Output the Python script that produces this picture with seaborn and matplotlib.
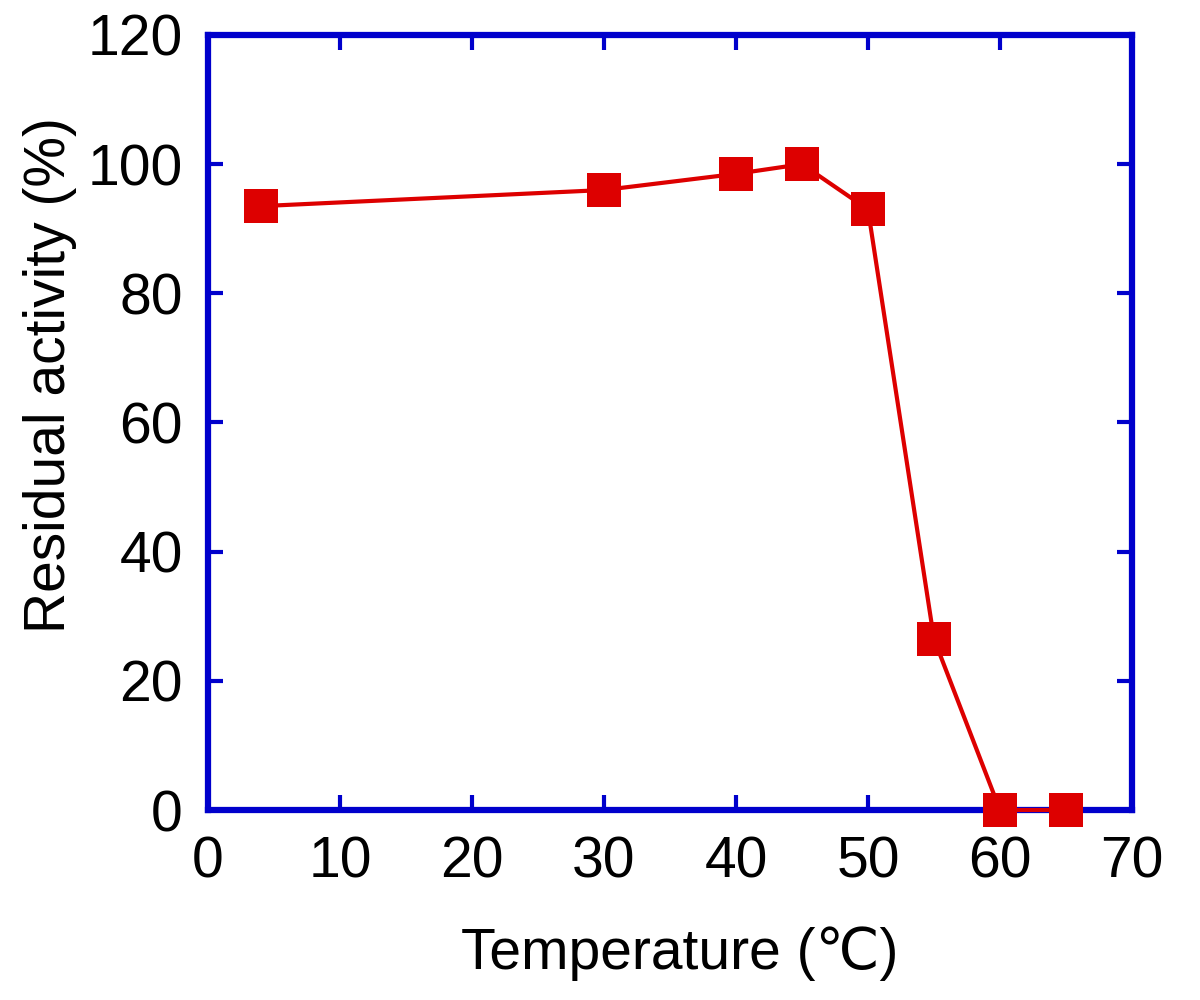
import matplotlib
matplotlib.use("Agg")
import matplotlib.pyplot as plt
import seaborn as sns
import pandas as pd

temperature = [4, 30, 40, 45, 50, 55, 60, 65]
activity = [93.5, 96, 98.5, 100, 93, 26.5, 0, 0]
x_ticks = [0, 10, 20, 30, 40, 50, 60, 70]
y_ticks = [0, 20, 40, 60, 80, 100, 120]

sns.set_theme(style="white")
plt.rcParams['font.family'] = ['Liberation Sans', 'DejaVu Sans', 'Noto Sans CJK SC']
plt.rcParams['text.color'] = 'black'
plt.rcParams['axes.labelcolor'] = 'black'
plt.rcParams['xtick.labelcolor'] = 'black'
plt.rcParams['ytick.labelcolor'] = 'black'

df = pd.DataFrame({"Temperature": temperature, "Activity": activity})

fig = plt.figure(figsize=(12, 10), dpi=100)
ax = fig.add_axes([0.1733, 0.19, 0.77, 0.775])

blue = "#0000CC"
red = "#DD0000"

sns.lineplot(data=df, x="Temperature", y="Activity", ax=ax, color=red,
             linewidth=3, marker="s", markersize=24, markeredgewidth=0,
             markerfacecolor=red, clip_on=False, zorder=5)

ax.set_xlim(0, 70)
ax.set_ylim(0, 120)
ax.set_xticks(x_ticks)
ax.set_yticks(y_ticks)
ax.set_xlabel("Temperature (℃)", fontsize=41, color="black")
ax.set_ylabel("Residual activity (%)", fontsize=41, color="black")
ax.xaxis.set_label_coords(0.51, -0.150)
ax.yaxis.set_label_coords(-0.142, 0.561)

for s in ax.spines.values():
    s.set_color(blue)
    s.set_linewidth(4.5)
    s.set_visible(True)

ax.tick_params(axis="both", which="major", direction="in", length=11, width=3,
               color=blue, labelsize=41, labelcolor="black",
               top=True, right=True, bottom=True, left=True)
ax.tick_params(axis="x", pad=18)
ax.tick_params(axis="y", pad=18)
ax.grid(False)

fig.savefig("out.png", dpi=100)
